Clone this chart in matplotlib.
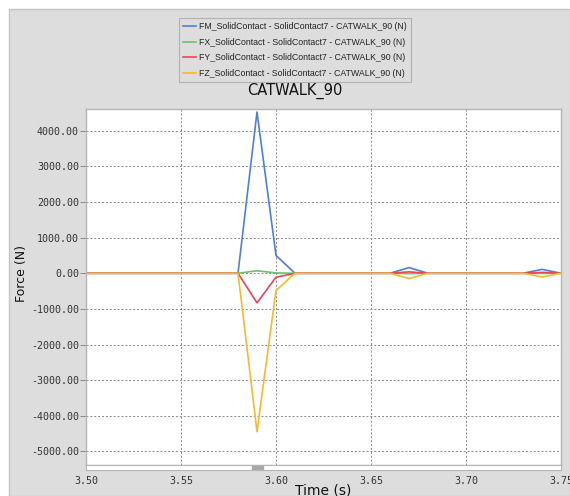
import matplotlib
matplotlib.use("Agg")
import matplotlib.pyplot as plt
from matplotlib.patches import Rectangle

# sample times (s) and force components (N)
time = [3.50, 3.58, 3.59, 3.60, 3.61, 3.66, 3.67, 3.68, 3.73, 3.74, 3.75]
fm = [0, 0, 4525, 500, 0, 0, 160, 0, 0, 110, 0]
fx = [0, 0, 70, 10, 0, 0, -10, 0, 0, -5, 0]
fy = [0, 0, -830, -110, 0, 0, 40, 0, 0, 25, 0]
fz = [0, 0, -4445, -485, 0, 0, -150, 0, 0, -105, 0]

labels = ["FM_SolidContact - SolidContact7 - CATWALK_90 (N)",
          "FX_SolidContact - SolidContact7 - CATWALK_90 (N)",
          "FY_SolidContact - SolidContact7 - CATWALK_90 (N)",
          "FZ_SolidContact - SolidContact7 - CATWALK_90 (N)"]
colors = ["#4f7fd6", "#6cc170", "#e8455a", "#f6b92f"]
yticks = [4000, 3000, 2000, 1000, 0, -1000, -2000, -3000, -4000, -5000]
xticks = [3.50, 3.55, 3.60, 3.65, 3.70, 3.75]

W, H = 570, 496
fig = plt.figure(figsize=(W / 100, H / 100), dpi=100, facecolor="white")

# gray panel behind everything
fig.patches.append(Rectangle((9 / W, 0), 1 - 9 / W, 1 - 9 / H, transform=fig.transFigure,
                             facecolor="#dddddd", edgecolor="#c4c4c4", lw=1, zorder=-5))

L, R, T, B = 86, 561, 109, 465
ax = fig.add_axes([L / W, 1 - B / H, (R - L) / W, (B - T) / H])
ax.set_zorder(2)
ax.set_facecolor("white")

for y, c, lab in zip([fm, fx, fy, fz], colors, labels):
    ax.plot(time, y, color=c, lw=1.2, label=lab)

ax.set_xlim(3.50, 3.75)
ax.set_ylim(-5380, 4610)
ax.set_yticks(yticks)
ax.set_xticks(xticks)
ax.set_yticklabels(["%.2f" % v for v in yticks])
ax.set_xticklabels([])
ax.grid(True, color="#888888", lw=0.7, linestyle=(0, (2, 2)))
ax.tick_params(axis="y", direction="out", length=4, width=0.7, color="#888888",
               labelsize=7.2, labelcolor="#333333", pad=1)
ax.tick_params(axis="x", length=0)
for lab in ax.get_yticklabels():
    lab.set_family("DejaVu Sans Mono")
for s in ax.spines.values():
    s.set_color("#b5b5b5")
    s.set_linewidth(1)

# thin scroll strip under the plot
sx = fig.add_axes([L / W, 1 - 470 / H, (R - L) / W, 5 / H])
sx.set_zorder(2)
sx.set_facecolor("white")
sx.set_xlim(3.50, 3.75)
sx.set_ylim(0, 1)
sx.set_xticks(xticks)
sx.set_xticklabels(["%.2f" % v for v in xticks], family="DejaVu Sans Mono",
                   fontsize=7.2, color="#333333")
sx.tick_params(axis="x", length=0, pad=4)
sx.set_yticks([])
sx.axvspan(3.5875, 3.593, ymin=0.3, ymax=0.8, color="#a8a8a8")
for s in sx.spines.values():
    s.set_color("#b5b5b5")
    s.set_linewidth(0.8)

fig.text((L + R) / 2 / W, 1 - 490 / H, "Time (s)", ha="center", va="center",
         fontsize=10, color="#111111")
fig.text(22 / W, 1 - 273 / H, "Force (N)", ha="center", va="center",
         rotation=90, fontsize=9, color="#111111")
fig.text(295 / W, 1 - 91 / H, "CATWALK_90", ha="center", va="center",
         fontsize=10.5, color="#111111")

leg = fig.legend(loc="center", bbox_to_anchor=(295 / W, 1 - 50 / H),
                 prop={"family": "Liberation Sans", "size": 6.3},
                 frameon=True, fancybox=False, handlelength=1.4, handletextpad=0.4,
                 labelspacing=0.75, borderpad=0.5)
leg.get_frame().set_facecolor("#dddddd")
leg.get_frame().set_edgecolor("#a8a8a8")
leg.get_frame().set_linewidth(0.8)
for t in leg.get_texts():
    t.set_color("#222222")

fig.savefig("out.png", dpi=100, facecolor=fig.get_facecolor())
